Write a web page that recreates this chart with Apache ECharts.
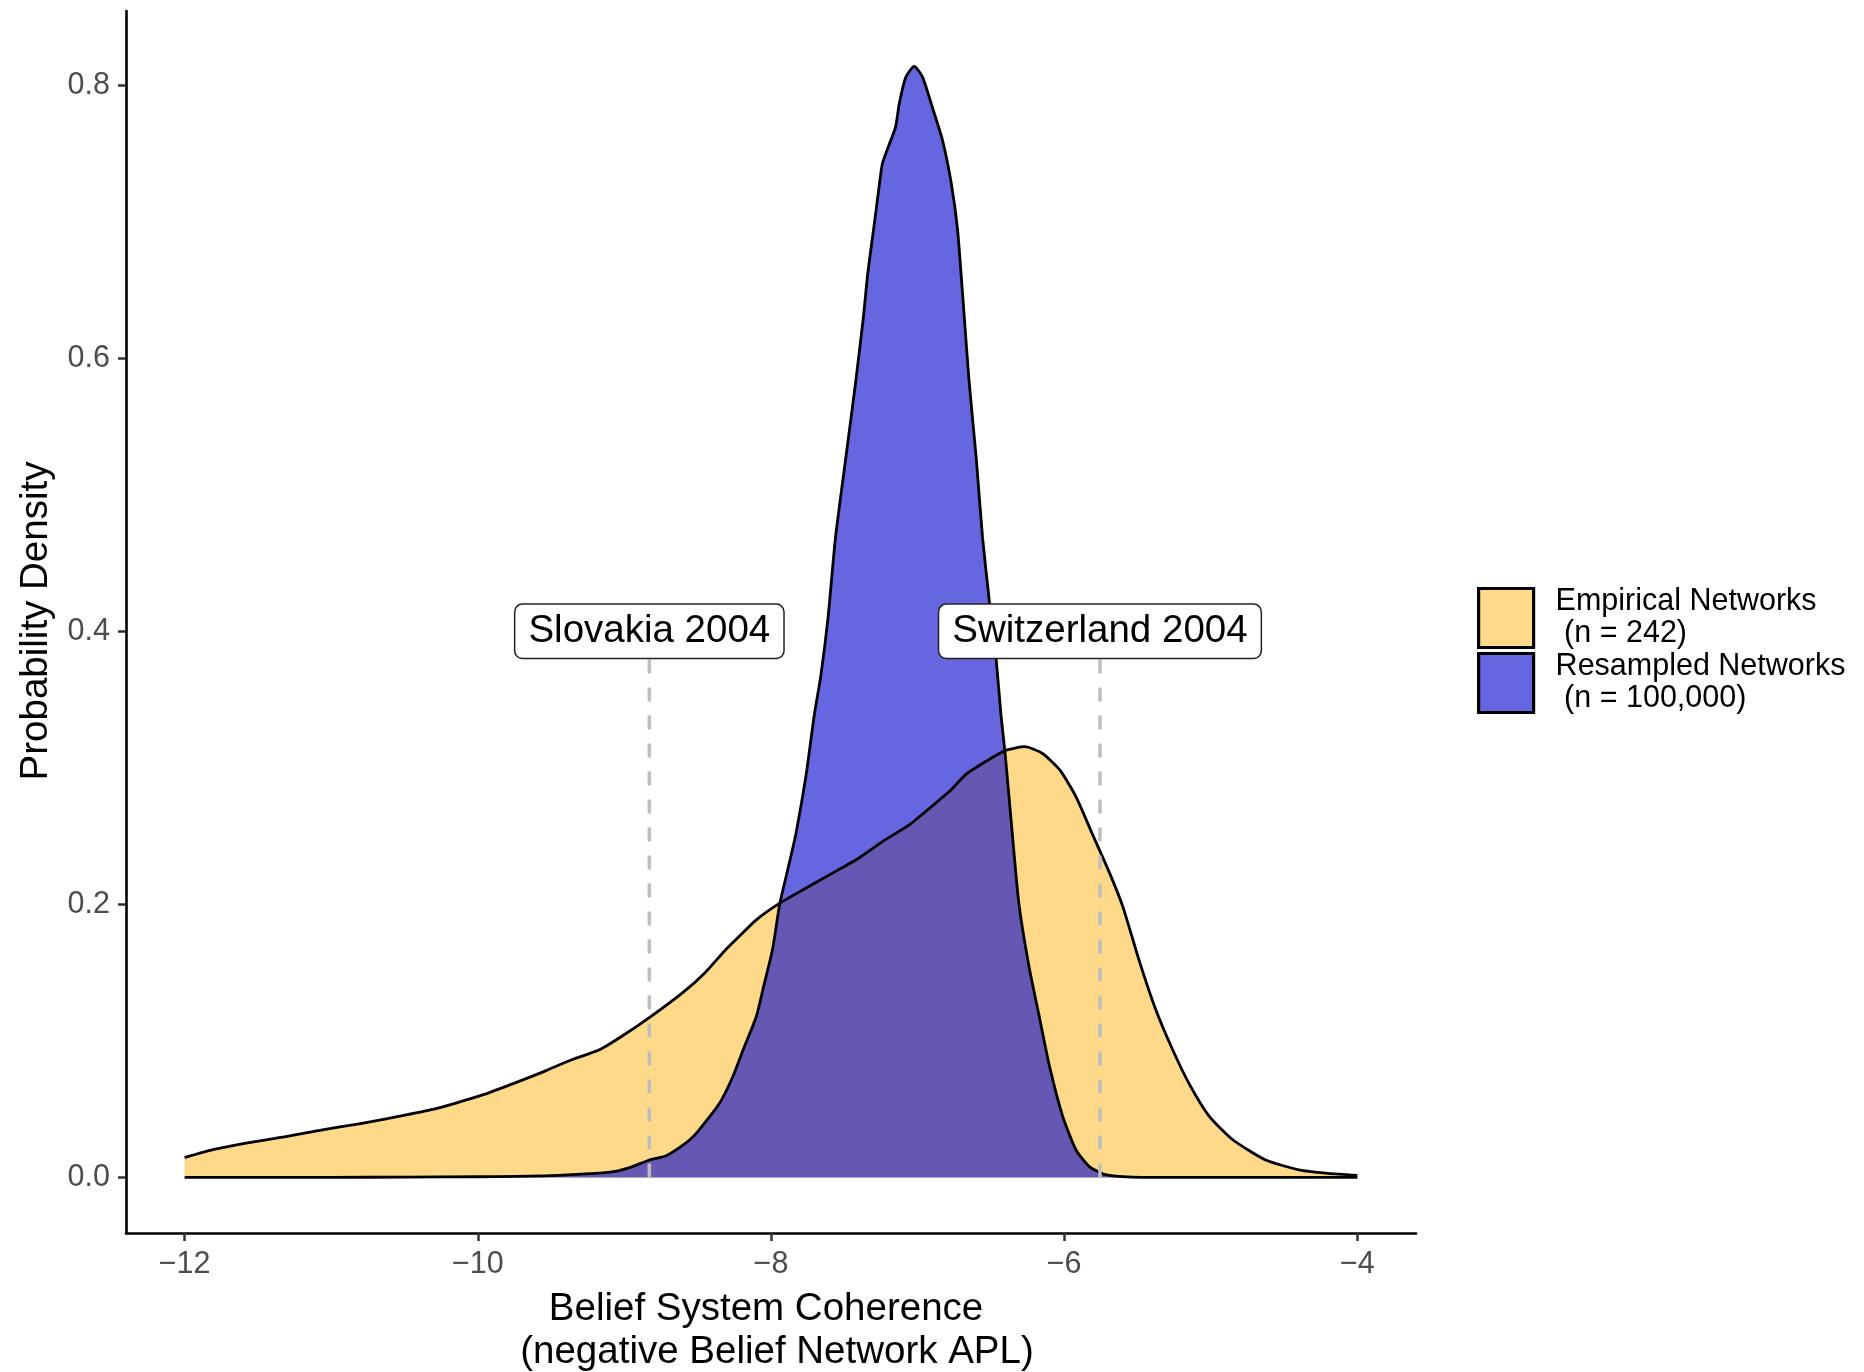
<!DOCTYPE html>
<html>
<head>
<meta charset="utf-8">
<script src="https://cdn.jsdelivr.net/npm/echarts@6/dist/echarts.min.js"></script>
<style>
html,body{margin:0;padding:0;background:#fff;}
#chart{width:1864px;height:1372px;}
</style>
</head>
<body>
<div id="chart"></div>
<script>
// ---- data ----
const empiricalX = [-12.0,-11.8,-11.58,-11.3,-11.06,-10.8,-10.54,-10.3,-10.15,-9.95,-9.75,-9.55,-9.36,-9.17,-9.02,-8.83,-8.6,-8.45,-8.32,-8.26,-8.1,-7.94,-7.76,-7.58,-7.4,-7.24,-7.06,-6.9,-6.78,-6.67,-6.53,-6.4,-6.27,-6.15,-6.03,-5.92,-5.81,-5.69,-5.6,-5.49,-5.375,-5.26,-5.15,-5.01,-4.85,-4.63,-4.4,-4.2,-4.0];
const empiricalY = [0.0145,0.0205,0.0252,0.030,0.0349,0.0395,0.0447,0.050,0.0545,0.061,0.0691,0.0775,0.0862,0.0935,0.1032,0.117,0.1355,0.150,0.1655,0.172,0.1887,0.2009,0.212,0.2229,0.234,0.246,0.258,0.2721,0.283,0.2952,0.305,0.3128,0.3155,0.3107,0.2985,0.279,0.2521,0.2229,0.1984,0.1594,0.1228,0.0935,0.0691,0.0447,0.0276,0.013,0.0056,0.003,0.0015];

const resampledX = [-12.0,-11.0,-10.5,-10.0,-9.75,-9.55,-9.36,-9.17,-9.06,-8.94,-8.83,-8.72,-8.63,-8.55,-8.49,-8.35,-8.26,-8.19,-8.1,-8.05,-7.99,-7.94,-7.88,-7.83,-7.76,-7.705,-7.66,-7.61,-7.56,-7.49,-7.42,-7.37,-7.34,-7.295,-7.26,-7.24,-7.2,-7.15,-7.125,-7.08,-7.023,-6.966,-6.9,-6.83,-6.77,-6.727,-6.69,-6.65,-6.6,-6.557,-6.511,-6.466,-6.431,-6.405,-6.36,-6.31,-6.24,-6.17,-6.1,-6.01,-5.92,-5.83,-5.72,-5.54,-5.0,-4.0];
const resampledY = [0.0,0.0,0.0003,0.0005,0.0008,0.0012,0.002,0.0032,0.0044,0.0081,0.0128,0.0157,0.0215,0.028,0.0349,0.0545,0.0739,0.0935,0.1179,0.140,0.1667,0.2005,0.228,0.2518,0.2952,0.3386,0.3676,0.411,0.4688,0.5268,0.5847,0.630,0.6621,0.6987,0.728,0.7427,0.7548,0.7695,0.7866,0.806,0.8139,0.806,0.7841,0.7597,0.728,0.6938,0.6426,0.5847,0.5268,0.4688,0.4226,0.382,0.3386,0.3128,0.2592,0.2015,0.1545,0.1179,0.0813,0.0447,0.0203,0.0081,0.002,0.0003,0.0,0.0];

const seriesNames = ['Empirical Networks\n (n = 242)', 'Resampled Networks\n (n = 100,000)'];
const annotationNames = ['Slovakia 2004', 'Switzerland 2004'];
const annotationX = [-8.83, -5.756];
const annotationY = [0.4, 0.4];

const xTicks = [-12, -10, -8, -6, -4];
const yTicks = [0, 0.2, 0.4, 0.6, 0.8];

const xTitle1 = 'Belief System Coherence';
const xTitle2 = '(negative Belief Network APL)';
const yTitle = 'Probability Density';

// ---- build ----
const FONT = '"Liberation Sans", Arial, Helvetica, sans-serif';
const YELLOW = '#FED98A';
const BLUE_A = 'rgba(0,0,205,0.6)';
const BLUE_SOLID = '#6666E1';

const zip = (xs, ys) => xs.map((x, i) => [x, ys[i]]);

const chart = echarts.init(document.getElementById('chart'), null, {renderer: 'canvas'});

const densityCommon = {
  type: 'line',
  showSymbol: false,
  symbol: 'none',
  smooth: 0.2,
  sampling: null,
  lineStyle: {color: '#000', width: 2.8, join: 'round'},
  emphasis: {disabled: true},
  silent: true
};

const series = [
  Object.assign({}, densityCommon, {
    name: seriesNames[0],
    data: zip(empiricalX, empiricalY),
    itemStyle: {color: YELLOW},
    areaStyle: {color: YELLOW, opacity: 1}
  }),
  Object.assign({}, densityCommon, {
    name: seriesNames[1],
    data: zip(resampledX, resampledY),
    itemStyle: {color: BLUE_SOLID},
    areaStyle: {color: BLUE_A, opacity: 1}
  })
];

annotationNames.forEach((nm, i) => {
  series.push({
    type: 'line',
    name: 'guide_' + i,
    symbol: 'none',
    silent: true,
    data: [[annotationX[i], 0], [annotationX[i], annotationY[i]]],
    lineStyle: {color: '#BEBEBE', width: 3.5, type: [14, 14]},
    z: 3
  });
});

series.push({
  type: 'scatter',
  name: 'annotations',
  symbolSize: 1,
  silent: true,
  itemStyle: {color: 'rgba(0,0,0,0)', opacity: 1},
  data: annotationNames.map((nm, i) => ({value: [annotationX[i], annotationY[i]], name: nm})),
  label: {
    show: true,
    position: 'inside',
    formatter: p => p.name,
    fontFamily: FONT,
    fontSize: 38.5,
    color: '#000',
    opacity: 1,
    backgroundColor: '#fff',
    borderColor: '#222',
    borderWidth: 1.5,
    borderRadius: 7,
    padding: [7, 13, 7, 13]
  },
  z: 5
});

const option = {
  animation: false,
  backgroundColor: '#fff',
  grid: {left: 126, right: 448, top: 11, bottom: 139, containLabel: false},
  xAxis: {
    type: 'value',
    min: -12.4,
    max: -3.6,
    axisLine: {show: true, onZero: false, lineStyle: {color: '#000', width: 2.6}},
    axisTick: {show: true, customValues: xTicks, length: 8, lineStyle: {color: '#333', width: 2.5}},
    axisLabel: {
      show: true, customValues: xTicks, margin: 16,
      fontFamily: FONT, fontSize: 30.5, color: '#4D4D4D',
      formatter: v => String(v).replace('-', '\u2212')
    },
    splitLine: {show: false}
  },
  yAxis: {
    type: 'value',
    min: -0.0407,
    max: 0.8544,
    axisLine: {show: true, onZero: false, lineStyle: {color: '#000', width: 2.6}},
    axisTick: {show: true, customValues: yTicks, length: 8, lineStyle: {color: '#333', width: 2.5}},
    axisLabel: {
      show: true, customValues: yTicks, margin: 16,
      fontFamily: FONT, fontSize: 30.5, color: '#4D4D4D',
      formatter: v => Number(v).toFixed(1)
    },
    splitLine: {show: false}
  },
  legend: {
    orient: 'vertical',
    left: 1477,
    top: 586,
    padding: 0,
    itemWidth: 55,
    itemHeight: 59,
    itemGap: 1,
    icon: 'rect',
    selectedMode: false,
    textStyle: {fontFamily: FONT, fontSize: 30.5, lineHeight: 32, color: '#000', padding: [0, 0, 0, 17]},
    data: [
      {name: seriesNames[0], icon: 'rect', itemStyle: {color: YELLOW, borderColor: '#000', borderWidth: 3.2}},
      {name: seriesNames[1], icon: 'rect', itemStyle: {color: BLUE_SOLID, borderColor: '#000', borderWidth: 3.2}}
    ]
  },
  graphic: [
    {type: 'text', x: 766, y: 1309, style: {text: xTitle1, x: 0, y: 0, align: 'center', verticalAlign: 'middle', font: '38.5px ' + FONT, fill: '#000'}},
    {type: 'text', x: 777, y: 1352, style: {text: xTitle2, x: 0, y: 0, align: 'center', verticalAlign: 'middle', font: '38.5px ' + FONT, fill: '#000'}},
    {type: 'text', x: 36, y: 621, rotation: Math.PI / 2, style: {text: yTitle, x: 0, y: 0, align: 'center', verticalAlign: 'middle', font: '38.5px ' + FONT, fill: '#000'}}
  ],
  series: series
};

chart.setOption(option);
</script>
</body>
</html>
